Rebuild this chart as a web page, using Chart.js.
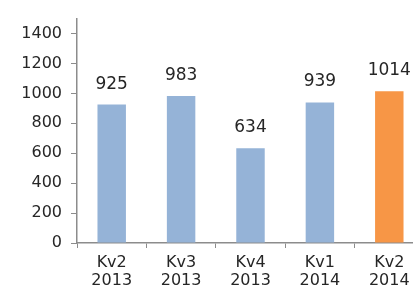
<!DOCTYPE html>
<html>
<head>
<meta charset="utf-8">
<script src="https://cdn.jsdelivr.net/npm/chart.js@4"></script>
<style>
  html, body { margin: 0; padding: 0; background: #fff; overflow: hidden; }
  #wrap { width: 424px; height: 291px; }
</style>
</head>
<body>
<div id="wrap"><canvas id="bar"></canvas></div>
<script>
const categories = [['Kv2', '2013'], ['Kv3', '2013'], ['Kv4', '2013'], ['Kv1', '2014'], ['Kv2', '2014']];
const values = [925, 983, 634, 939, 1014];
const barColors = ['#95b3d7', '#95b3d7', '#95b3d7', '#95b3d7', '#f79646'];
const yTicks = [0, 200, 400, 600, 800, 1000, 1200, 1400];

const valueLabels = {
  id: 'valueLabels',
  afterDatasetsDraw(chart) {
    const ctx = chart.ctx;
    const meta = chart.getDatasetMeta(0);
    ctx.save();
    ctx.font = '17px "DejaVu Sans"';
    ctx.fillStyle = '#262626';
    ctx.textAlign = 'center';
    ctx.textBaseline = 'bottom';
    meta.data.forEach((bar, i) => {
      ctx.fillText(String(values[i]), bar.x, bar.y - 12);
    });
    ctx.restore();
  }
};

let config = {
  type: 'bar',
  data: {
    labels: categories,
    datasets: [{
      data: values,
      backgroundColor: barColors,
      categoryPercentage: 1,
      barPercentage: 0.41
    }]
  },
  options: {
    maintainAspectRatio: false,
    responsive: true,
    animation: false,
    layout: { padding: { top: 13, right: 0, left: 0, bottom: 0 } },
    plugins: { legend: { display: false }, tooltip: { enabled: false } },
    scales: {
      y: {
        min: 0,
        max: 1500,
        afterBuildTicks: (axis) => { axis.ticks = yTicks.map(v => ({ value: v })); },
        afterFit: (axis) => { axis.width = 77; },
        grid: { drawOnChartArea: false, tickLength: 6, color: '#8c8c8c' },
        border: { color: '#8c8c8c', width: 1.5 },
        ticks: { color: '#262626', font: { family: 'DejaVu Sans', size: 16 }, padding: 9,
                 callback: (v) => String(v) }
      },
      x: {
        afterFit: (axis) => { axis.height = 48; },
        grid: { drawOnChartArea: false, tickLength: 5, color: '#8c8c8c', offset: true },
        border: { color: '#8c8c8c', width: 1.5 },
        ticks: { color: '#262626', font: { family: 'DejaVu Sans', size: 16, lineHeight: 1.13 }, padding: 6 }
      }
    }
  },
  plugins: [valueLabels]
};
let ctx = document.getElementById('bar').getContext('2d');
window.myBar = new Chart(ctx, config);
</script>
</body>
</html>
